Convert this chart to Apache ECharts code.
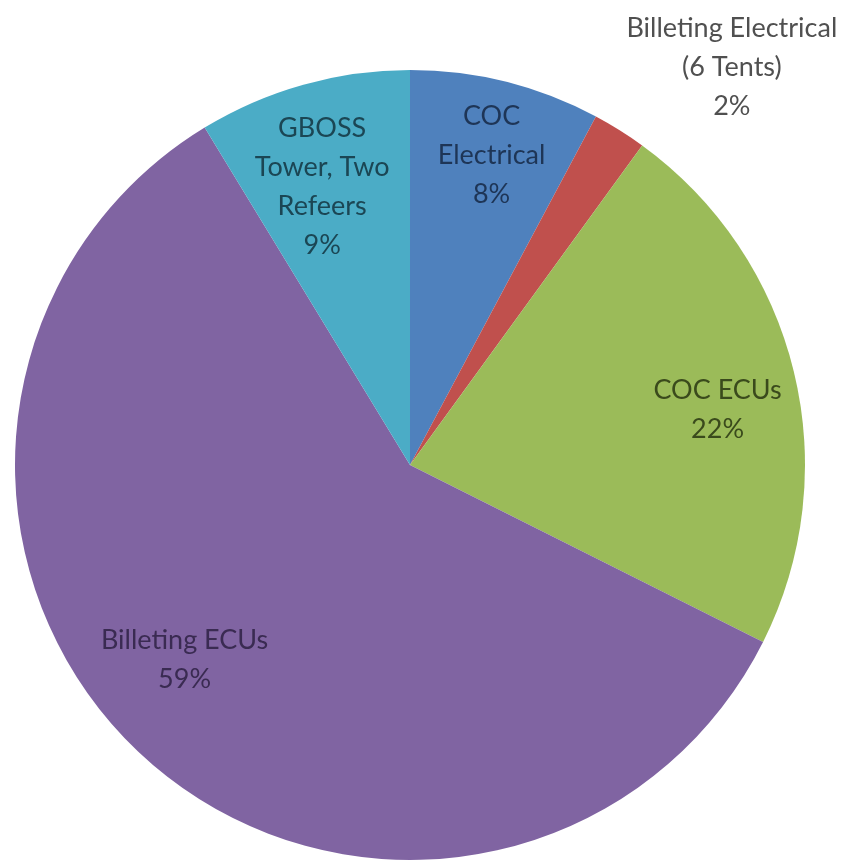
<!DOCTYPE html>
<html>
<head>
<meta charset="utf-8">
<script src="https://cdn.jsdelivr.net/npm/echarts@6/dist/echarts.min.js"></script>
<style>
html,body{margin:0;padding:0;background:#fff;}
#chart{width:856px;height:862px;}
</style>
</head>
<body>
<div id="chart"></div>
<script>
// Data (clockwise from 12 o'clock)
const categories = ['COC\nElectrical', 'Billeting Electrical\n(6 Tents)', 'COC ECUs', 'Billeting ECUs', 'GBOSS\nTower, Two\nRefeers'];
const values = [7.8, 2.2, 22.4, 58.9, 8.7];

// Styles
const sliceColors = ['#4F81BD', '#C0504D', '#9BBB59', '#8064A2', '#4BACC6'];
const labelColors = ['#1E3556', '#505050', '#3A4A1C', '#3A2B52', '#1B4654'];
const labelOffsets = [[8, -16], [161, -141], [13, 17], [-20, -28], [-6, 14]];

const FONT = 'Lato, "Open Sans", sans-serif';
const CX = 410, CY = 465, R = 395;

const chart = echarts.init(document.getElementById('chart'));

const baseData = categories.map((c, i) => ({
  name: c, value: values[i], itemStyle: { color: sliceColors[i] }
}));

const labelData = categories.map((c, i) => ({
  name: c, value: values[i],
  label: { color: labelColors[i], offset: labelOffsets[i] }
}));

chart.setOption({
  animation: false,
  series: [
    {
      type: 'pie',
      center: [CX, CY],
      radius: [0, R],
      startAngle: 90,
      clockwise: true,
      silent: true,
      label: { show: false },
      labelLine: { show: false },
      itemStyle: { borderWidth: 0 },
      data: baseData
    },
    {
      type: 'pie',
      center: [CX, CY],
      radius: [R * 0.52, R],
      startAngle: 90,
      clockwise: true,
      silent: true,
      percentPrecision: 0,
      itemStyle: { color: 'rgba(0,0,0,0)', borderWidth: 0 },
      labelLine: { show: false },
      label: {
        show: true,
        position: 'inside',
        formatter: p => p.name + '\n' + p.percent + '%',
        fontFamily: FONT,
        fontSize: 27,
        lineHeight: 39,
        align: 'center'
      },
      data: labelData
    }
  ]
});
</script>
</body>
</html>
